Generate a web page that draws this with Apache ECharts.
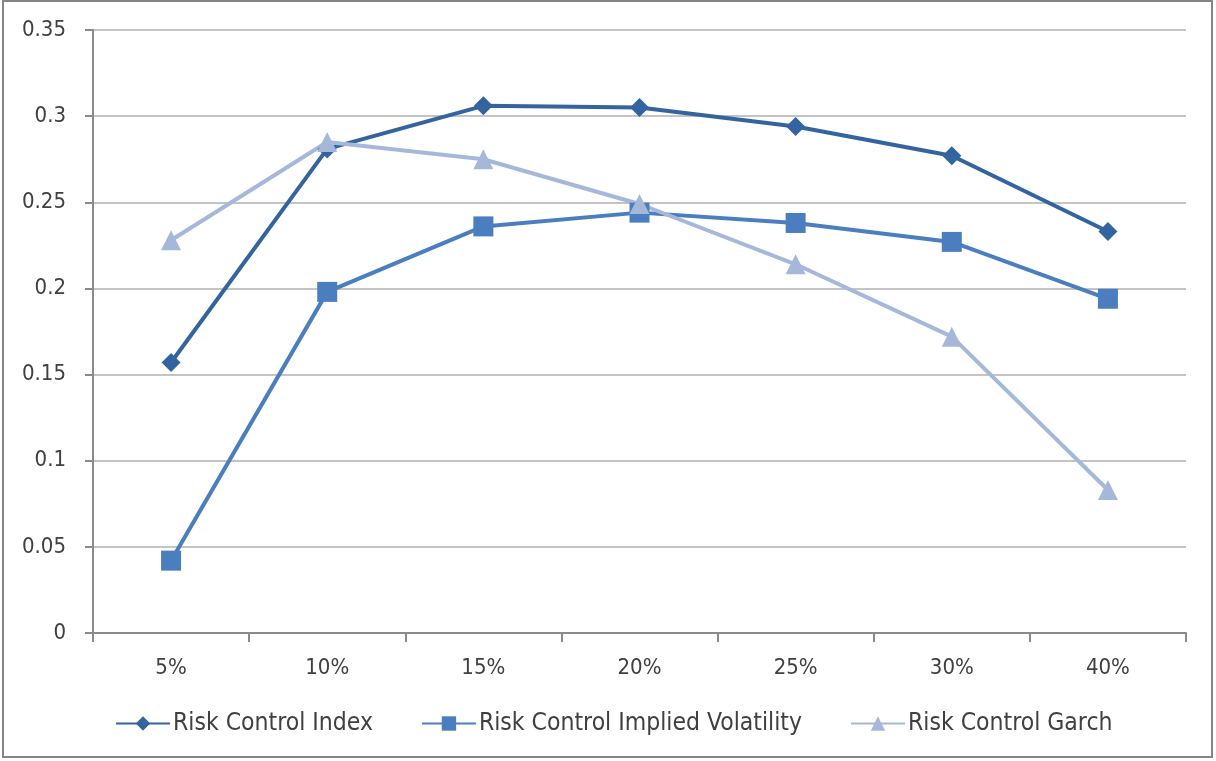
<!DOCTYPE html>
<html>
<head>
<meta charset="utf-8">
<script src="https://cdn.jsdelivr.net/npm/echarts@6/dist/echarts.min.js"></script>
<style>
  html, body { margin: 0; padding: 0; background: #ffffff; }
  #frame { position: absolute; left: 2px; top: 0px; width: 1211px; height: 758px; border: 2px solid #858585; box-sizing: border-box; }
  #chart { position: absolute; left: 0; top: 0; width: 1216px; height: 761px; }
</style>
</head>
<body>
<div id="frame"></div>
<div id="chart"></div>
<script>
// Risk-control strategies across volatility targets
const categories = ['5%', '10%', '15%', '20%', '25%', '30%', '40%'];
const riskControlIndex = [0.157, 0.281, 0.306, 0.305, 0.294, 0.277, 0.233];
const riskControlImpliedVol = [0.042, 0.198, 0.236, 0.244, 0.238, 0.227, 0.194];
const riskControlGarch = [0.228, 0.285, 0.275, 0.249, 0.214, 0.172, 0.083];
const yTicks = { min: 0, max: 0.35, step: 0.05 };

const FONT = '"DejaVu Sans Condensed", "Liberation Sans", sans-serif';

const chart = echarts.init(document.getElementById('chart'), null, { renderer: 'canvas' });

function lineSeries(name, data, color, symbol, size) {
  return {
    name: name,
    type: 'line',
    data: data,
    symbol: symbol,
    symbolSize: size,
    lineStyle: { color: color, width: 4 },
    itemStyle: { color: color },
    emphasis: { disabled: true },
    animation: false
  };
}

chart.setOption({
  animation: false,
  backgroundColor: 'transparent',
  grid: { left: 93, right: 30, top: 30, bottom: 128, containLabel: false },
  xAxis: {
    type: 'category',
    data: categories,
    boundaryGap: true,
    axisLine: { lineStyle: { color: '#8a8a8a', width: 2 } },
    axisTick: { show: true, alignWithLabel: false, length: 9, lineStyle: { color: '#8a8a8a', width: 2 } },
    axisLabel: { color: '#404040', fontSize: 22, fontFamily: FONT, margin: 24 },
    splitLine: { show: false }
  },
  yAxis: {
    type: 'value',
    min: yTicks.min,
    max: yTicks.max,
    interval: yTicks.step,
    axisLine: { show: true, lineStyle: { color: '#8a8a8a', width: 2 } },
    axisTick: { show: true, length: 8, lineStyle: { color: '#8a8a8a', width: 2 } },
    axisLabel: { color: '#404040', fontSize: 22, fontFamily: FONT, margin: 27 },
    splitLine: { show: true, lineStyle: { color: '#c4c4c4', width: 2 } }
  },
  legend: {
    bottom: 20,
    left: 110,
    itemWidth: 54,
    itemHeight: 18,
    itemGap: 48,
    textStyle: { color: '#404040', fontSize: 24.5, fontFamily: FONT, padding: [0, 0, 0, -2] },
    data: ['Risk Control Index', 'Risk Control Implied Volatility', 'Risk Control Garch']
  },
  series: [
    lineSeries('Risk Control Index', riskControlIndex, '#33649f', 'diamond', 19),
    lineSeries('Risk Control Implied Volatility', riskControlImpliedVol, '#4a7ebf', 'rect', 20),
    lineSeries('Risk Control Garch', riskControlGarch, '#a6b8da', 'triangle', 20)
  ]
});
</script>
</body>
</html>
